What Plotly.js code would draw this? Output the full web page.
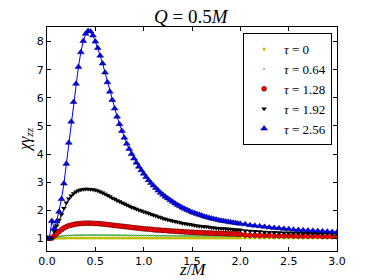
<!DOCTYPE html>
<html><head><meta charset="utf-8">
<script src="https://cdn.plot.ly/plotly-3.0.1.min.js"></script>
<style>html,body{margin:0;padding:0;background:#fff;}#chart{width:374px;height:280px;}</style>
</head><body><div id="chart"></div>
<script>
const z = [0,0.025,0.05,0.075,0.1,0.125,0.15,0.175,0.2,0.225,0.25,0.275,0.3,0.325,0.35,0.375,0.4,0.425,0.45,0.475,
0.5,0.525,0.55,0.575,0.6,0.625,0.65,0.675,0.7,0.725,0.75,0.775,0.8,0.825,0.85,0.875,0.9,0.925,0.95,0.975,
1.0,1.025,1.05,1.075,1.1,1.125,1.15,1.175,1.2,1.225,1.25,1.275,1.3,1.325,1.35,1.375,1.4,1.425,1.45,1.475,
1.5,1.525,1.55,1.575,1.6,1.625,1.65,1.675,1.7,1.725,1.75,1.775,1.8,1.825,1.85,1.875,1.9,1.925,1.95,1.975,
2.0,2.05,2.1,2.15,2.2,2.25,2.3,2.35,2.4,2.45,2.5,2.55,2.6,2.65,2.7,2.75,2.8,2.85,2.9,2.95,3.0];

const tau0 = [1.0,1.0,1.0,1.0,1.0,1.0,1.0,1.0,1.01,1.01,1.01,1.01,1.01,1.01,1.01,1.01,1.01,1.01,1.01,1.01,
1.01,1.01,1.01,1.01,1.01,1.01,1.01,1.01,1.01,1.01,1.01,1.01,1.01,1.01,1.01,1.01,1.01,1.01,1.01,1.01,
1.01,1.01,1.01,1.01,1.01,1.01,1.01,1.01,1.01,1.01,1.01,1.01,1.01,1.01,1.01,1.01,1.01,1.01,1.01,1.01,
1.01,1.01,1.01,1.01,1.01,1.01,1.01,1.01,1.01,1.01,1.01,1.01,1.01,1.01,1.01,1.01,1.01,1.01,1.01,1.01,
1.01,1.01,1.01,1.01,1.01,1.01,1.01,1.01,1.01,1.01,1.01,1.01,1.01,1.01,1.01,1.01,1.01,1.01,1.01,1.01,1.01];

const tau064 = [1.0,1.0,1.0,1.03,1.05,1.07,1.08,1.09,1.1,1.105,1.11,1.11,1.115,1.115,1.12,1.12,1.12,1.12,1.12,1.12,
1.12,1.12,1.12,1.12,1.12,1.115,1.115,1.115,1.115,1.11,1.11,1.11,1.11,1.11,1.105,1.105,1.105,1.105,1.1,1.1,
1.1,1.1,1.1,1.1,1.1,1.095,1.095,1.095,1.095,1.095,1.09,1.09,1.09,1.09,1.09,1.09,1.09,1.09,1.085,1.085,
1.085,1.085,1.085,1.085,1.085,1.085,1.08,1.08,1.08,1.08,1.08,1.08,1.08,1.08,1.08,1.08,1.08,1.075,1.075,1.075,
1.075,1.075,1.075,1.07,1.07,1.07,1.07,1.07,1.07,1.065,1.065,1.065,1.065,1.065,1.065,1.06,1.06,1.06,1.06,1.06,1.06];

const tau128 = [1.0,1.0,1.01,1.08,1.16,1.24,1.31,1.37,1.41,1.45,1.47,1.49,1.51,1.52,1.53,1.535,1.54,1.54,1.54,1.535,
1.53,1.525,1.52,1.51,1.5,1.49,1.48,1.47,1.46,1.45,1.44,1.43,1.42,1.41,1.4,1.39,1.38,1.37,1.36,1.35,
1.34,1.33,1.33,1.32,1.31,1.3,1.3,1.29,1.28,1.28,1.27,1.26,1.26,1.25,1.25,1.24,1.24,1.23,1.23,1.22,
1.22,1.21,1.21,1.2,1.2,1.2,1.19,1.19,1.19,1.18,1.18,1.18,1.17,1.17,1.17,1.16,1.16,1.16,1.16,1.15,
1.15,1.12,1.11,1.11,1.1,1.1,1.1,1.09,1.09,1.09,1.09,1.08,1.08,1.08,1.08,1.08,1.08,1.07,1.07,1.07,1.07];

const tau192 = [1.0,1.0,1.02,1.25,1.45,1.65,1.85,2.07,2.27,2.41,2.52,2.6,2.66,2.7,2.73,2.75,2.76,2.76,2.75,2.74,
2.72,2.69,2.66,2.62,2.58,2.53,2.49,2.44,2.4,2.35,2.31,2.27,2.23,2.19,2.15,2.11,2.08,2.04,2.01,1.98,
1.95,1.92,1.89,1.86,1.83,1.8,1.77,1.74,1.71,1.69,1.66,1.64,1.62,1.6,1.58,1.56,1.54,1.53,1.51,1.5,
1.48,1.47,1.45,1.44,1.43,1.42,1.41,1.4,1.39,1.38,1.37,1.36,1.35,1.35,1.34,1.33,1.33,1.32,1.31,1.31,
1.3,1.27,1.26,1.25,1.24,1.23,1.22,1.22,1.21,1.2,1.2,1.19,1.19,1.18,1.18,1.18,1.17,1.17,1.17,1.16,1.16];

const tau256 = [1.0,1.0,1.62,1.35,1.6,1.95,2.4,2.95,3.65,4.4,5.15,5.85,6.5,7.1,7.62,8.02,8.28,8.38,8.36,8.22,
8.0,7.77,7.5,7.22,6.9,6.55,6.22,5.92,5.62,5.33,5.06,4.82,4.58,4.37,4.18,4.0,3.84,3.69,3.55,3.42,
3.3,3.18,3.07,2.97,2.88,2.79,2.7,2.62,2.55,2.48,2.42,2.36,2.3,2.24,2.19,2.14,2.09,2.05,2.01,1.97,
1.93,1.9,1.87,1.84,1.81,1.78,1.76,1.73,1.71,1.69,1.67,1.65,1.63,1.62,1.6,1.59,1.57,1.56,1.55,1.53,
1.52,1.5,1.47,1.45,1.43,1.41,1.39,1.37,1.36,1.34,1.33,1.31,1.3,1.29,1.28,1.27,1.26,1.25,1.24,1.23,1.22];

const seriesNames = ['<i>τ</i> = 0','<i>τ</i> = 0.64','<i>τ</i> = 1.28','<i>τ</i> = 1.92','<i>τ</i> = 2.56'];
const xTicks = [0,0.5,1.0,1.5,2.0,2.5,3.0];
const yTicks = [1,2,3,4,5,6,7,8];

const series = [tau0, tau064, tau128, tau192, tau256];
const lineColors = ['#bfbf00','#008000','#ff0000','#000000','#0000ff'];
const markerSpecs = [
  {symbol:'circle', size:3, color:'#bfbf00', line:{width:0}},
  {symbol:'circle', size:2, color:'#66bb66', line:{width:0}},
  {symbol:'circle', size:5, color:'#ff0000', line:{width:0.5, color:'#400000'}},
  {symbol:'triangle-down', size:5, color:'#000000', line:{width:0}},
  {symbol:'triangle-up', size:6, color:'#0000ff', line:{width:0.5, color:'#000040'}}
];

const traces = [];
series.forEach((s,i)=>{
  traces.push({x:z, y:s, mode:'lines', line:{color:lineColors[i], width:1}, showlegend:false, hoverinfo:'skip'});
});
series.forEach((s,i)=>{
  traces.push({x:z, y:s, mode:'markers', name:seriesNames[i], marker:markerSpecs[i]});
});

const axisCommon = {
  showline:true, linecolor:'#000', linewidth:1, mirror:'allticks',
  ticks:'inside', ticklen:4, tickwidth:1, tickcolor:'#000',
  showgrid:false, zeroline:false,
  tickfont:{family:'DejaVu Sans', size:11, color:'#000'}
};

const layout = {
  width:374, height:280,
  margin:{l:47, r:37, t:27, b:29},
  paper_bgcolor:'#fff', plot_bgcolor:'#fff',
  title:{text:'<i>Q</i> = 0.5<i>M</i>', font:{family:'Liberation Serif', size:19, color:'#000'},
    x:0.51, xanchor:'center', y:0.94, yanchor:'middle'},
  xaxis:Object.assign({}, axisCommon, {range:[0,3], tickvals:xTicks, tickformat:'.1f'}),
  yaxis:Object.assign({}, axisCommon, {range:[0.55,8.52], tickvals:yTicks,
    title:{text:'<i>χγ</i><sub><i>zz</i></sub>', font:{family:'Liberation Serif', size:16, color:'#000'}, standoff:2}}),
  annotations:[{text:'<i>z</i>/<i>M</i>', xref:'paper', yref:'paper', x:0.5, y:-0.128, xanchor:'center', yanchor:'bottom',
    showarrow:false, borderpad:0, font:{family:'Liberation Serif', size:17, color:'#000'}}],
  legend:{x:0.983, xanchor:'right', y:0.973, yanchor:'top', bordercolor:'#000', borderwidth:1, bgcolor:'#fff',
    font:{family:'Liberation Serif', size:13, color:'#000'}, tracegroupgap:0, itemwidth:30},
  showlegend:true
};

Plotly.newPlot('chart', traces, layout, {staticPlot:true, displayModeBar:false});
</script></body></html>
